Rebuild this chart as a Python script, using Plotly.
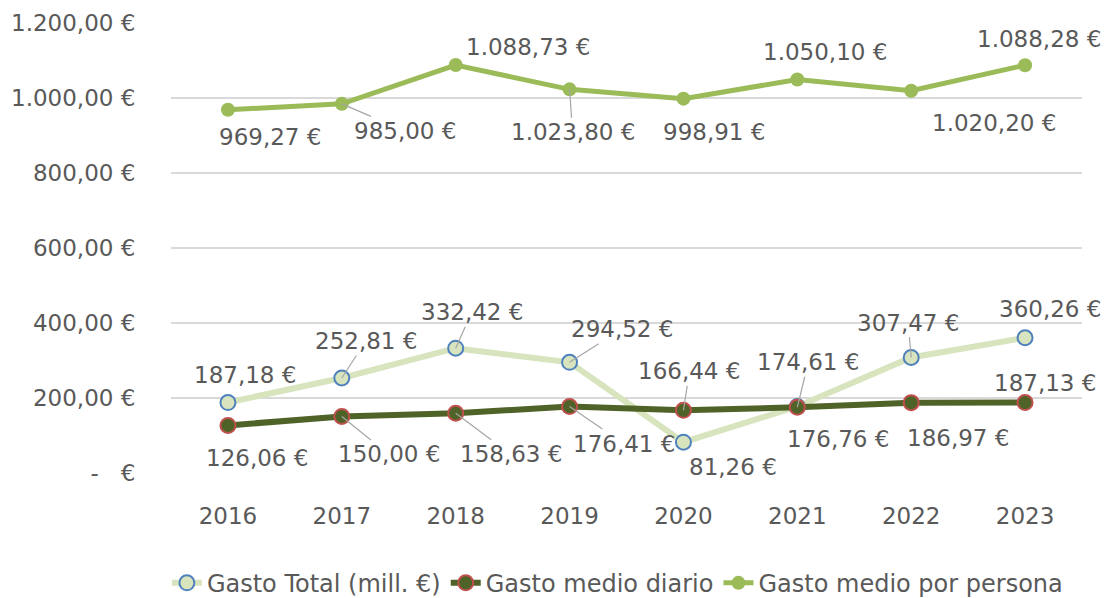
import plotly.graph_objects as go

# Data
years = ["2016", "2017", "2018", "2019", "2020", "2021", "2022", "2023"]
gasto_total = [187.18, 252.81, 332.42, 294.52, 81.26, 176.76, 307.47, 360.26]
gasto_diario = [126.06, 150.00, 158.63, 176.41, 166.44, 174.61, 186.97, 187.13]
gasto_persona = [969.27, 985.00, 1088.73, 1023.80, 998.91, 1050.10, 1020.20, 1088.28]

y_tickvals = [0, 200, 400, 600, 800, 1000, 1200]
y_ticktext = ["-   €", "200,00 €", "400,00 €", "600,00 €", "800,00 €", "1.000,00 €", "1.200,00 €"]

# Label offsets in pixels (dx, dy) and whether a leader line is drawn
total_offsets = [(17, -28), (24, -37), (16, -36), (52, -33), (50, 25), (41, 33), (-3, -35), (25, -29)]
total_leader = [False, True, True, True, False, False, True, False]
diario_offsets = [(29, 33), (47, 38), (55, 41), (54, 37), (6, -39), (11, -45), (47, 35), (20, -20)]
diario_leader = [False, True, True, True, True, True, False, False]
persona_offsets = [(42, 27), (63, 27), (72, -18), (3, 43), (31, 33), (28, -27), (83, 32), (14, -26)]
persona_leader = [False, True, False, True, False, False, False, False]

FONT = "DejaVu Sans"
TEXT_COLOR = "#595959"


def euro(v):
    s = f"{v:,.2f}".replace(",", "X").replace(".", ",").replace("X", ".")
    return s + " €"


fig = go.Figure()

fig.add_trace(go.Scatter(
    x=years, y=gasto_total, name="Gasto Total (mill. €)", mode="lines+markers",
    line=dict(color="#D7E4BD", width=6),
    marker=dict(size=15, color="#D7E4BD", line=dict(color="#4F81BD", width=2)),
))
fig.add_trace(go.Scatter(
    x=years, y=gasto_diario, name="Gasto medio diario", mode="lines+markers",
    line=dict(color="#4F6228", width=6),
    marker=dict(size=15, color="#4F6228", line=dict(color="#C0504D", width=2)),
))
fig.add_trace(go.Scatter(
    x=years, y=gasto_persona, name="Gasto medio por persona", mode="lines+markers",
    line=dict(color="#9BBB59", width=5),
    marker=dict(size=14, color="#9BBB59"),
))

for series, offsets, leaders in [
    (gasto_total, total_offsets, total_leader),
    (gasto_diario, diario_offsets, diario_leader),
    (gasto_persona, persona_offsets, persona_leader),
]:
    for i, (v, (dx, dy), lead) in enumerate(zip(series, offsets, leaders)):
        if lead:
            fig.add_annotation(
                x=i, y=v, xref="x", yref="y", text=euro(v), showarrow=True, arrowhead=0,
                arrowwidth=1.2, arrowcolor="#A6A6A6", ax=dx, ay=dy,
                font=dict(family=FONT, size=23, color=TEXT_COLOR),
            )
        else:
            fig.add_annotation(
                x=i, y=v, xref="x", yref="y", text=euro(v), showarrow=False,
                xshift=dx, yshift=-dy,
                font=dict(family=FONT, size=23, color=TEXT_COLOR),
            )

# page body has an 8px margin, so the figure is a bit smaller than the window
fig.update_layout(
    width=1102, height=590,
    margin=dict(l=163, r=28, t=15, b=125, autoexpand=False),
    plot_bgcolor="white", paper_bgcolor="white",
    font=dict(family=FONT, size=23, color=TEXT_COLOR),
    legend=dict(orientation="h", x=0.49, xanchor="center", y=-0.245, yanchor="middle",
                font=dict(size=24, color=TEXT_COLOR), itemwidth=30),
)
fig.update_xaxes(type="category", range=[-0.5, 7.5], showgrid=False, showline=False,
                 ticks="outside", ticklen=22, tickcolor="rgba(0,0,0,0)")
fig.update_yaxes(range=[-1, 1201], tickvals=y_tickvals, ticktext=y_ticktext,
                 showgrid=True, gridcolor="#D9D9D9", gridwidth=1.5, zeroline=False,
                 ticks="outside", ticklen=30, tickcolor="rgba(0,0,0,0)")

fig.write_html("out.html")
